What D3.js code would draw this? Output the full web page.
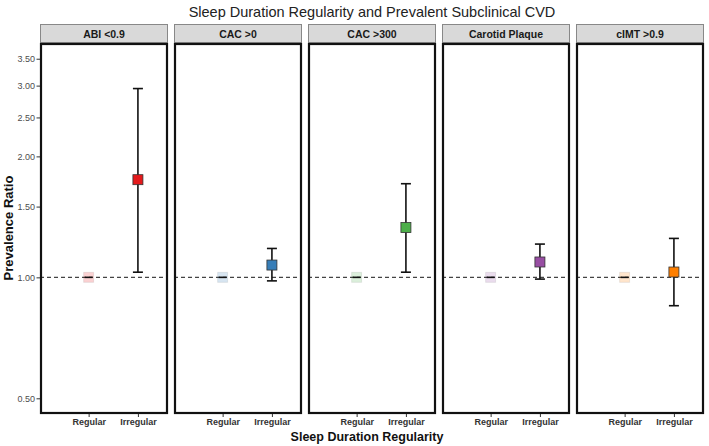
<!DOCTYPE html>
<html><head><meta charset="utf-8">
<script src="https://cdn.jsdelivr.net/npm/d3@7"></script>
<style>body{margin:0;background:#fff}svg{display:block}text{font-family:"Liberation Sans",Arial,sans-serif}</style>
</head><body><svg id="c" width="709" height="446"></svg>
<script>
const outcomes = ["ABI <0.9","CAC >0","CAC >300","Carotid Plaque","cIMT >0.9"];
const groups = ["Regular","Irregular"];
const colors = ["#E41A1C","#377EB8","#4DAF4A","#984EA3","#FF7F00"];
const irregularPR = [1.75,1.073,1.33,1.092,1.031];
const irregularLo = [1.03,0.98,1.03,0.99,0.85];
const irregularHi = [2.95,1.18,1.71,1.21,1.25];
const regularPR = [1,1,1,1,1];
const yTicks = [0.5,1.0,1.5,2.0,2.5,3.0,3.5];

const svg = d3.select("#c");
const panelTop = 43, panelBottom = 414, stripTop = 24;
const fx = d3.scaleBand().domain(outcomes).range([40,704]).paddingInner(6/134);
const pw = fx.bandwidth();
const y = d3.scaleLog().domain([0.457,3.83]).range([panelBottom,panelTop]);

svg.append("text").attr("x",372).attr("y",17).attr("text-anchor","middle")
  .attr("font-size",14.5).attr("fill","#222").text("Sleep Duration Regularity and Prevalent Subclinical CVD");

// y axis
const yAxis = d3.axisLeft(y).tickValues(yTicks).tickFormat(d3.format(".2f")).tickSize(3.5).tickPadding(1.5);
const ga = svg.append("g").attr("transform","translate(40,0)").call(yAxis);
ga.select(".domain").remove();
ga.selectAll("line").attr("stroke","#333");
ga.selectAll("text").attr("font-size",9).attr("fill","#4d4d4d").attr("font-family","Liberation Sans, Arial, sans-serif");

svg.append("text").attr("transform","translate(13,228) rotate(-90)").attr("text-anchor","middle")
  .attr("font-size",13).attr("font-weight","bold").attr("fill","#111").text("Prevalence Ratio");
svg.append("text").attr("x",367).attr("y",441).attr("text-anchor","middle")
  .attr("font-size",12.5).attr("font-weight","bold").attr("fill","#111").text("Sleep Duration Regularity");

outcomes.forEach((o,i)=>{
  const x0 = fx(o);
  const g = svg.append("g").attr("transform",`translate(${x0},0)`);
  const x = d3.scalePoint().domain(groups).range([pw*0.38,pw*0.765]);
  // strip
  g.append("rect").attr("x",0.5).attr("y",stripTop+0.5).attr("width",pw-1).attr("height",panelTop-stripTop-1)
    .attr("fill","#d9d9d9").attr("stroke","#888").attr("stroke-width",1);
  g.append("text").attr("x",pw/2).attr("y",stripTop+13.5).attr("text-anchor","middle")
    .attr("font-size",10.5).attr("font-weight","bold").attr("fill","#1a1a1a").text(o);
  // panel
  g.append("rect").attr("x",0).attr("y",panelTop).attr("width",pw).attr("height",panelBottom-panelTop).attr("fill","#fff");
  // ref line
  g.append("line").attr("x1",0).attr("x2",pw).attr("y1",y(1)).attr("y2",y(1))
    .attr("stroke","#444").attr("stroke-width",1.1).attr("stroke-dasharray","4,3");
  // regular
  const xr = x("Regular"), xi = x("Irregular");
  g.append("rect").attr("x",xr-5).attr("y",y(regularPR[i])-5).attr("width",10).attr("height",10)
    .attr("fill",colors[i]).attr("fill-opacity",0.2).attr("stroke","#000").attr("stroke-opacity",0.08);
  g.append("line").attr("x1",xr-4).attr("x2",xr+4).attr("y1",y(regularPR[i])).attr("y2",y(regularPR[i]))
    .attr("stroke","#111").attr("stroke-width",1.6);
  // irregular error bar
  g.append("line").attr("x1",xi).attr("x2",xi).attr("y1",y(irregularLo[i])).attr("y2",y(irregularHi[i]))
    .attr("stroke","#111").attr("stroke-width",1.6);
  [irregularLo[i],irregularHi[i]].forEach(v=>{
    g.append("line").attr("x1",xi-5).attr("x2",xi+5).attr("y1",y(v)).attr("y2",y(v))
      .attr("stroke","#111").attr("stroke-width",1.6);
  });
  g.append("rect").attr("x",xi-5).attr("y",y(irregularPR[i])-5).attr("width",10).attr("height",10)
    .attr("fill",colors[i]).attr("stroke","#333").attr("stroke-width",0.8);
  g.append("rect").attr("x",1).attr("y",panelTop+1).attr("width",pw-2).attr("height",panelBottom-panelTop-2)
    .attr("fill","none").attr("stroke","#111").attr("stroke-width",2.2);
  // x axis
  const xa = g.append("g").attr("transform",`translate(0,${panelBottom})`)
    .call(d3.axisBottom(x).tickSize(3).tickPadding(2));
  xa.select(".domain").remove();
  xa.selectAll("line").attr("stroke","#333");
  xa.selectAll("text").attr("font-size",9).attr("font-weight","bold").attr("fill","#333")
    .attr("font-family","Liberation Sans, Arial, sans-serif");
});
</script></body></html>
